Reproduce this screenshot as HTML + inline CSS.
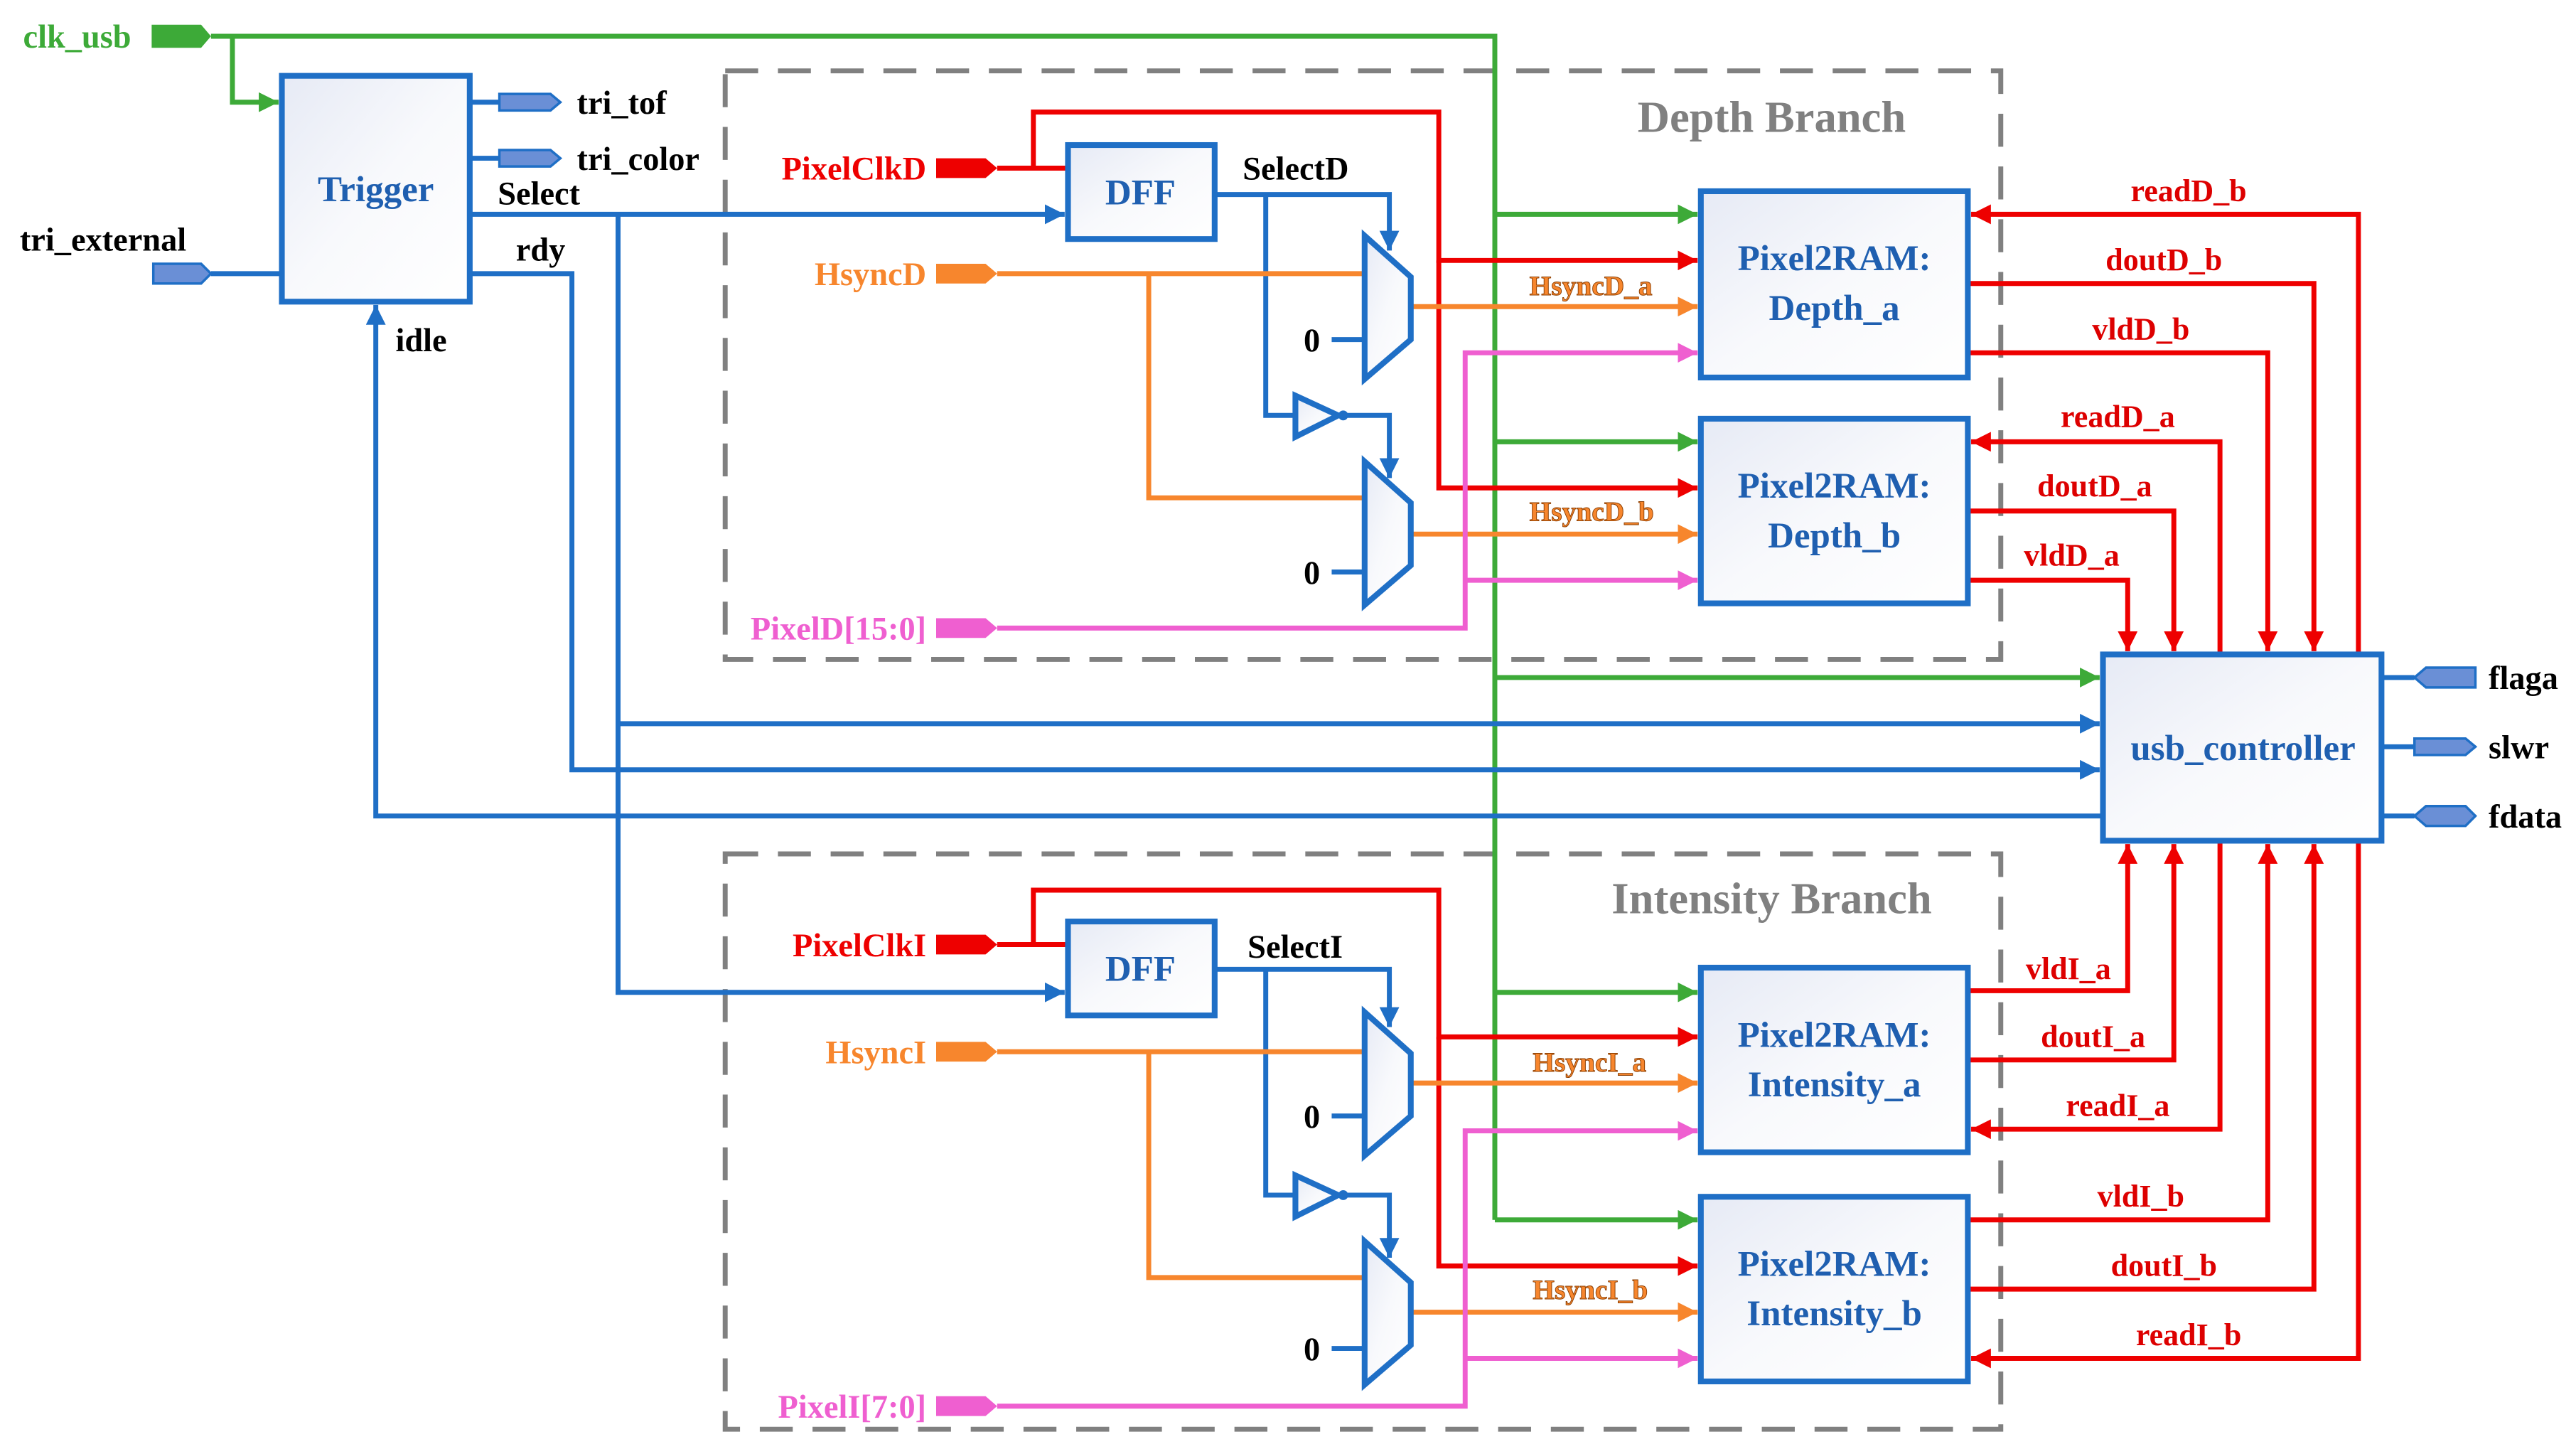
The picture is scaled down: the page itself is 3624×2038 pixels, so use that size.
<!DOCTYPE html>
<html><head><meta charset="utf-8"><style>
html,body{margin:0;padding:0;background:#fff;}
svg{display:block}
text{font-family:"Liberation Serif",serif;font-weight:bold;}
</style></head><body>
<svg width="3624" height="2038" viewBox="0 0 1563 879" xmlns="http://www.w3.org/2000/svg">
<defs>
<linearGradient id="g" x1="0" y1="0" x2="1" y2="1"><stop offset="0" stop-color="#e6eaf5"/><stop offset="0.5" stop-color="#f8f9fc"/><stop offset="1" stop-color="#ffffff"/></linearGradient>
<marker id="ab" viewBox="0 0 10 10" refX="10" refY="5" markerWidth="4" markerHeight="4" orient="auto" markerUnits="strokeWidth"><path d="M0,0L10,5L0,10z" fill="#1f6fc6"/></marker>
<marker id="ar" viewBox="0 0 10 10" refX="10" refY="5" markerWidth="4" markerHeight="4" orient="auto" markerUnits="strokeWidth"><path d="M0,0L10,5L0,10z" fill="#ee0000"/></marker>
<marker id="ag" viewBox="0 0 10 10" refX="10" refY="5" markerWidth="4" markerHeight="4" orient="auto" markerUnits="strokeWidth"><path d="M0,0L10,5L0,10z" fill="#3daa38"/></marker>
<marker id="ao" viewBox="0 0 10 10" refX="10" refY="5" markerWidth="4" markerHeight="4" orient="auto" markerUnits="strokeWidth"><path d="M0,0L10,5L0,10z" fill="#f7862d"/></marker>
<marker id="am" viewBox="0 0 10 10" refX="10" refY="5" markerWidth="4" markerHeight="4" orient="auto" markerUnits="strokeWidth"><path d="M0,0L10,5L0,10z" fill="#ef5fd0"/></marker>
</defs>

<!-- dashed branch boxes -->
<g fill="none" stroke="#808080" stroke-width="3" stroke-dasharray="20,12">
<rect x="440" y="43" width="774" height="357"/>
<rect x="440" y="518" width="774" height="349"/>
</g>
<text x="1075" y="80" font-size="27" fill="#808080" text-anchor="middle">Depth Branch</text>
<text x="1075" y="554" font-size="27" fill="#808080" text-anchor="middle">Intensity Branch</text>

<!-- green clk -->
<g fill="none" stroke="#3daa38" stroke-width="3">
<path d="M128,22H907V740"/>
<path d="M141,22V62H169" marker-end="url(#ag)"/>
<path d="M907,130H1030" marker-end="url(#ag)"/>
<path d="M907,268H1030" marker-end="url(#ag)"/>
<path d="M907,411H1274" marker-end="url(#ag)"/>
<path d="M907,602H1030" marker-end="url(#ag)"/>
<path d="M907,740H1030" marker-end="url(#ag)"/>
</g>
<path d="M92,15H122L128,22L122,29H92z" fill="#3daa38"/>
<text x="14" y="29" font-size="20" fill="#3daa38">clk_usb</text>

<!-- blue top-level -->
<g fill="none" stroke="#1f6fc6" stroke-width="3">
<path d="M128,166H171"/>
<path d="M285,62H303"/><path d="M285,96H303"/>
<path d="M285,130H646" marker-end="url(#ab)"/>
<path d="M375,130V602H646" marker-end="url(#ab)"/>
<path d="M375,439H1274" marker-end="url(#ab)"/>
<path d="M285,166H347V467H1274" marker-end="url(#ab)"/>
<path d="M1276,495H228V185" marker-end="url(#ab)"/>
<path d="M1445,411H1465"/><path d="M1445,453H1465"/><path d="M1445,495H1465"/>
<!-- depth select -->
<path d="M737,118H843V152" marker-end="url(#ab)"/>
<path d="M768,118V252H786"/>
<path d="M816,252H843V290" marker-end="url(#ab)"/>
<path d="M808,206H828"/><path d="M808,347H828"/>
<!-- intensity select -->
<path d="M737,588H843V623" marker-end="url(#ab)"/>
<path d="M768,588V725H786"/>
<path d="M816,725H843V763" marker-end="url(#ab)"/>
<path d="M808,677H828"/><path d="M808,818H828"/>
</g>
<g fill="#6a8fd6" stroke="#1f6fc6" stroke-width="1.5">
<path d="M93,160H122L128,166L122,172H93z"/>
<path d="M303,57H334L340,62L334,67H303z"/>
<path d="M303,91H334L340,96L334,101H303z"/>
<path d="M1502,405H1472L1465,411L1472,417H1502z"/>
<path d="M1465,448H1496L1502,453L1496,458H1465z"/>
<path d="M1465,495L1472,489H1496L1502,495L1496,501H1472z"/>
</g>
<g font-size="20" fill="#000">
<text x="350" y="69">tri_tof</text>
<text x="350" y="103">tri_color</text>
<text x="302" y="124">Select</text>
<text x="313" y="158">rdy</text>
<text x="12" y="152">tri_external</text>
<text x="240" y="213">idle</text>
<text x="754" y="109">SelectD</text>
<text x="757" y="581">SelectI</text>
<text x="1510" y="418">flaga</text>
<text x="1510" y="460">slwr</text>
<text x="1510" y="502">fdata</text>
<text x="791" y="213">0</text><text x="791" y="354">0</text>
<text x="791" y="684">0</text><text x="791" y="825">0</text>
</g>

<!-- red clocks -->
<g fill="none" stroke="#ee0000" stroke-width="3">
<path d="M605,102H648"/>
<path d="M627,102V68H873V158H1030" marker-end="url(#ar)"/>
<path d="M873,158V296H1030" marker-end="url(#ar)"/>
<path d="M605,573H648"/>
<path d="M627,573V540H873V629H1030" marker-end="url(#ar)"/>
<path d="M873,629V768H1030" marker-end="url(#ar)"/>
<!-- right side -->
<path d="M1431,397V130H1196" marker-end="url(#ar)"/>
<path d="M1194,172H1404V395" marker-end="url(#ar)"/>
<path d="M1194,214H1376V395" marker-end="url(#ar)"/>
<path d="M1347,397V268H1196" marker-end="url(#ar)"/>
<path d="M1194,310H1319V395" marker-end="url(#ar)"/>
<path d="M1194,352H1291V395" marker-end="url(#ar)"/>
<path d="M1194,601H1291V512" marker-end="url(#ar)"/>
<path d="M1194,643H1319V512" marker-end="url(#ar)"/>
<path d="M1347,510V685H1196" marker-end="url(#ar)"/>
<path d="M1194,740H1376V512" marker-end="url(#ar)"/>
<path d="M1194,782H1404V512" marker-end="url(#ar)"/>
<path d="M1431,510V824H1196" marker-end="url(#ar)"/>
</g>
<path d="M568,96H598L605,102L598,108H568z" fill="#ee0000"/>
<path d="M568,567H598L605,573L598,579H568z" fill="#ee0000"/>
<g font-size="20" fill="#ee0000">
<text x="562" y="109" text-anchor="end">PixelClkD</text>
<text x="562" y="580" text-anchor="end">PixelClkI</text>
</g>
<g font-size="19" fill="#dd0000" text-anchor="middle">
<text x="1328" y="122">readD_b</text>
<text x="1313" y="164">doutD_b</text>
<text x="1299" y="206">vldD_b</text>
<text x="1285" y="259">readD_a</text>
<text x="1271" y="301">doutD_a</text>
<text x="1257" y="343">vldD_a</text>
<text x="1255" y="594">vldI_a</text>
<text x="1270" y="635">doutI_a</text>
<text x="1285" y="677">readI_a</text>
<text x="1299" y="732">vldI_b</text>
<text x="1313" y="774">doutI_b</text>
<text x="1328" y="816">readI_b</text>
</g>

<!-- orange hsync -->
<g fill="none" stroke="#f7862d" stroke-width="3">
<path d="M605,166H828"/><path d="M697,166V302H828"/>
<path d="M856,186H1030" marker-end="url(#ao)"/>
<path d="M856,324H1030" marker-end="url(#ao)"/>
<path d="M605,638H828"/><path d="M697,638V775H828"/>
<path d="M856,657H1030" marker-end="url(#ao)"/>
<path d="M856,796H1030" marker-end="url(#ao)"/>
</g>
<path d="M568,160H598L605,166L598,172H568z" fill="#f7862d"/>
<path d="M568,632H598L605,638L598,644H568z" fill="#f7862d"/>
<g font-size="20" fill="#f7862d">
<text x="562" y="173" text-anchor="end">HsyncD</text>
<text x="562" y="645" text-anchor="end">HsyncI</text>
</g>
<g font-size="17" fill="#f7862d" stroke="#8a3d00" stroke-width="0.4">
<text x="928" y="179">HsyncD_a</text>
<text x="928" y="316">HsyncD_b</text>
<text x="930" y="650">HsyncI_a</text>
<text x="930" y="788">HsyncI_b</text>
</g>

<!-- magenta pixel -->
<g fill="none" stroke="#ef5fd0" stroke-width="3">
<path d="M605,381H889V214H1030" marker-end="url(#am)"/>
<path d="M889,352H1030" marker-end="url(#am)"/>
<path d="M605,853H889V686H1030" marker-end="url(#am)"/>
<path d="M889,824H1030" marker-end="url(#am)"/>
</g>
<path d="M568,375H598L605,381L598,387H568z" fill="#ef5fd0"/>
<path d="M568,847H598L605,853L598,859H568z" fill="#ef5fd0"/>
<g font-size="20" fill="#ef5fd0">
<text x="562" y="388" text-anchor="end">PixelD[15:0]</text>
<text x="562" y="860" text-anchor="end">PixelI[7:0]</text>
</g>

<!-- muxes & inverters -->
<g fill="url(#g)" stroke="#1f6fc6" stroke-width="3.5">
<path d="M828,143L856,168V206L828,230z"/>
<path d="M828,280L856,305V343L828,367z"/>
<path d="M828,614L856,639V677L828,701z"/>
<path d="M828,753L856,778V816L828,840z"/>
<path d="M786,240L812,252L786,265z"/>
<path d="M786,713L812,725L786,738z"/>
</g>
<g fill="#1f6fc6"><circle cx="815" cy="252" r="3"/><circle cx="815" cy="725" r="3"/></g>

<!-- boxes -->
<g fill="url(#g)" stroke="#1f6fc6" stroke-width="3.5">
<rect x="171" y="46" width="114" height="137"/>
<rect x="648" y="88" width="89" height="57"/>
<rect x="648" y="559" width="89" height="57"/>
<rect x="1032" y="116" width="162" height="113"/>
<rect x="1032" y="254" width="162" height="112"/>
<rect x="1032" y="587" width="162" height="112"/>
<rect x="1032" y="726" width="162" height="112"/>
<rect x="1276" y="397" width="169" height="113"/>
</g>
<g font-size="22" fill="#1f5fb0" text-anchor="middle">
<text x="228" y="122">Trigger</text>
<text x="692" y="124">DFF</text>
<text x="692" y="595">DFF</text>
<text x="1113" y="164">Pixel2RAM:</text><text x="1113" y="194">Depth_a</text>
<text x="1113" y="302">Pixel2RAM:</text><text x="1113" y="332">Depth_b</text>
<text x="1113" y="635">Pixel2RAM:</text><text x="1113" y="665">Intensity_a</text>
<text x="1113" y="774">Pixel2RAM:</text><text x="1113" y="804">Intensity_b</text>
<text x="1361" y="461">usb_controller</text>
</g>
</svg>
</body></html>
